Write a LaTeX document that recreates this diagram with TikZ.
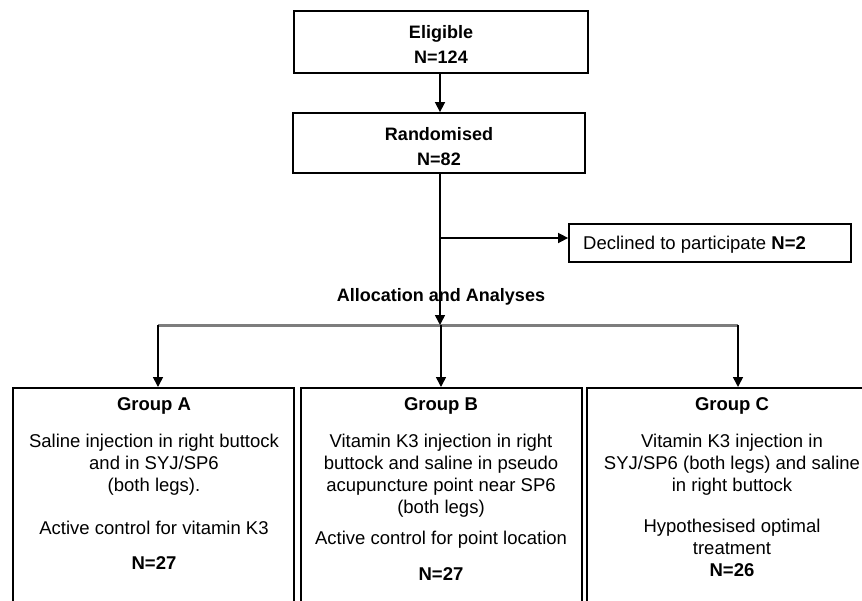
\documentclass[tikz,border=0pt]{standalone}
\usepackage{fontspec}
\setmainfont{Liberation Sans}
\usetikzlibrary{arrows.meta}
\definecolor{bargray}{RGB}{125,125,125}
\tikzset{
  box/.style={draw=black, line width=1.8pt, inner sep=0pt, fill=white},
  txt/.style={align=center, inner sep=0pt, font=\fontsize{18.5}{22}\selectfont},
  conn/.style={line width=1.6pt, -{Triangle[length=10pt,width=10pt]}},
  grayline/.style={line width=3pt, draw=bargray},
}
\begin{document}
\begin{tikzpicture}[x=1pt,y=-1pt]
\clip (0,0) rectangle (862,600);
\fill[white] (0,0) rectangle (862,600);
% top boxes
\node[box, minimum width=294pt, minimum height=62pt] (E) at (441,41.7) {};
\node[txt, font=\fontsize{18}{25}\selectfont\bfseries] (Et) at (441,44.5) {Eligible\\N=124};
\node[box, minimum width=292pt, minimum height=60pt] (R) at (439,143) {};
\node[txt, font=\fontsize{18}{25}\selectfont\bfseries] (Rt) at (439,146.5) {Randomised\\N=82};
% declined
\node[box, minimum width=282pt, minimum height=38pt] (D) at (710,243) {};
\node[txt, anchor=west] (Dt) at (583,245) {Declined to participate \textbf{N=2}};
% allocation
\node[txt, font=\fontsize{18}{22}\selectfont\bfseries] (Al) at (441,297) {Allocation and Analyses};
% group boxes
\node[box, minimum width=281pt, minimum height=240pt, anchor=north] (A) at (153.5,387) {};
\node[box, minimum width=281pt, minimum height=240pt, anchor=north] (B) at (441.5,387) {};
\node[box, minimum width=290pt, minimum height=240pt, anchor=north] (C) at (732,387) {};
% connectors
\coordinate (L) at (158,325);
\coordinate (M) at (440,325);
\coordinate (Rr) at (738,325);
\coordinate (br) at (440,238);
\draw[grayline] (L) -- (Rr);
\draw[conn] (E.south -| M) -- (R.north -| M);
\draw[conn] (R.south -| M) -- (M);
\draw[conn] (br) -- (D.west |- br);
\draw[conn] (L) -- (L |- A.north);
\draw[conn] ([xshift=1pt]M) -- ([xshift=1pt]M |- B.north);
\draw[conn] (Rr) -- (Rr |- C.north);
% Group A text
\node[txt, font=\fontsize{18.5}{22}\selectfont\bfseries] (A1) at (154,406) {Group A};
\node[txt, anchor=north] (A2) at (154,434) {Saline injection in right buttock\\and in SYJ/SP6\\(both legs).};
\node[txt] (A3) at (154,528) {Active control for vitamin K3};
\node[txt, font=\fontsize{18.5}{22}\selectfont\bfseries] (A4) at (154,563) {N=27};
% Group B text
\node[txt, font=\fontsize{18.5}{22}\selectfont\bfseries] (B1) at (441,406) {Group B};
\node[txt, anchor=north] (B2) at (441,434) {Vitamin K3 injection in right\\buttock and saline in pseudo\\acupuncture point near SP6\\(both legs)};
\node[txt] (B3) at (441,540) {Active control for point location};
\node[txt, font=\fontsize{18.5}{22}\selectfont\bfseries] (B4) at (441,574) {N=27};
% Group C text
\node[txt, font=\fontsize{18.5}{22}\selectfont\bfseries] (C1) at (732,406) {Group C};
\node[txt, anchor=north] (C2) at (732,434) {Vitamin K3 injection in\\SYJ/SP6 (both legs) and saline\\in right buttock};
\node[txt, anchor=north] (C3) at (732,519) {Hypothesised optimal\\treatment\\\textbf{N=26}};
\end{tikzpicture}
\end{document}
